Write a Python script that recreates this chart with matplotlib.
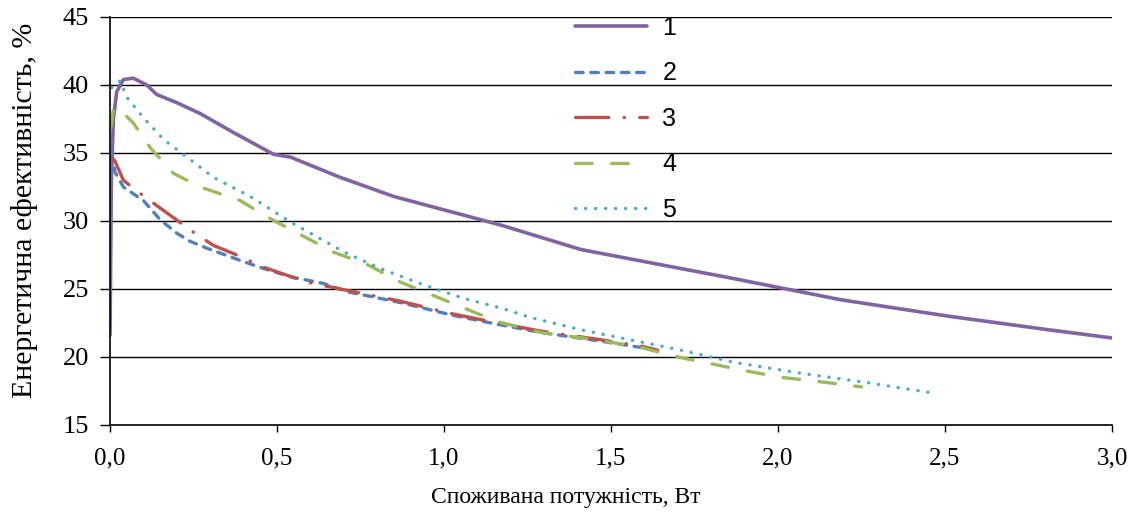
import matplotlib
matplotlib.use("Agg")
import matplotlib.pyplot as plt

plt.rcParams['lines.scale_dashes'] = False

# споживана потужність, Вт / енергетична ефективність, %
p1 = [0.0, 0.004, 0.01, 0.02, 0.04, 0.07, 0.11, 0.14, 0.2, 0.27, 0.37, 0.49, 0.54,
      0.69, 0.85, 1.17, 1.41, 1.86, 2.19, 2.51, 2.81, 3.0]
e1 = [21.6, 33.0, 37.5, 39.5, 40.4, 40.5, 40.0, 39.3, 38.7, 37.9, 36.5, 34.9, 34.7,
      33.2, 31.8, 29.7, 27.9, 25.8, 24.2, 23.0, 22.0, 21.4]

p2 = [0.005, 0.015, 0.04, 0.1, 0.15, 0.2, 0.24, 0.29, 0.39, 0.46, 0.54, 0.64, 0.71,
      0.87, 1.02, 1.14, 1.29, 1.46, 1.59, 1.65]
e2 = [35.0, 33.6, 32.5, 31.5, 30.1, 29.1, 28.5, 28.0, 27.1, 26.5, 25.9, 25.4, 24.8,
      24.0, 23.1, 22.5, 21.8, 21.2, 20.7, 20.4]

p3 = [0.005, 0.015, 0.04, 0.07, 0.125, 0.17, 0.26, 0.31, 0.37, 0.46, 0.59, 0.71,
      0.87, 1.02, 1.14, 1.29, 1.46, 1.59, 1.64]
e3 = [34.7, 34.4, 33.0, 32.4, 31.4, 30.6, 29.0, 28.2, 27.6, 26.6, 25.5, 24.9,
      24.1, 23.2, 22.6, 21.9, 21.3, 20.8, 20.5]

p4 = [0.003, 0.01, 0.02, 0.07, 0.12, 0.19, 0.27, 0.39, 0.47, 0.57, 0.67, 0.77, 0.87,
      0.96, 1.06, 1.16, 1.29, 1.46, 1.59, 1.70, 1.80, 1.90, 2.01, 2.12, 2.25]
e4 = [36.9, 38.2, 38.4, 37.2, 35.4, 33.5, 32.5, 31.5, 30.3, 29.0, 27.7, 26.8, 25.5,
      24.6, 23.6, 22.6, 21.8, 21.25, 20.7, 20.0, 19.5, 19.0, 18.5, 18.2, 17.8]

p5 = [0.005, 0.03, 0.05, 0.1, 0.16, 0.23, 0.31, 0.42, 0.545, 0.71, 0.82, 0.94, 1.06,
      1.17, 1.26, 1.41, 1.56, 1.71, 1.87, 2.07, 2.27, 2.45]
e5 = [39.8, 40.3, 39.1, 37.6, 36.0, 34.7, 33.2, 31.8, 29.85, 27.6, 26.4, 25.3, 24.3,
      23.6, 22.9, 22.0, 21.25, 20.5, 19.6, 18.8, 18.1, 17.4]

labels = ['1', '2', '3', '4', '5']

fig = plt.figure(figsize=(11.39, 5.15), dpi=100)
ax = fig.add_axes([0.0966, 0.1748, 0.8797, 0.7922])

serif = 'Liberation Serif'

ax.plot(p1, e1, color='#8064A2', lw=2.6, solid_capstyle='round', label=labels[0])
ax.plot(p2, e2, color='#4F81BD', lw=2.4, dashes=(5.5, 5.5), dash_capstyle='round', label=labels[1])
ax.plot(p3, e3, color='#C0504D', lw=2.4, dashes=(24, 11, 0.3, 11), dash_capstyle='round', label=labels[2])
ax.plot(p4, e4, color='#9BBB59', lw=2.4, dashes=(12, 14), dash_capstyle='round', label=labels[3])
ax.plot(p5, e5, color='#4BACC6', lw=2.4, dashes=(0.2, 7.0), dash_capstyle='round', label=labels[4])

ax.set_xlim(0, 3.0)
ax.set_ylim(15, 45)
xt = [0.0, 0.5, 1.0, 1.5, 2.0, 2.5, 3.0]
ax.set_xticks(xt)
ax.set_xticklabels([f'{v:.1f}'.replace('.', ',') for v in xt], fontfamily=serif, fontsize=18)
yt = [15, 20, 25, 30, 35, 40, 45]
ax.set_yticks(yt)
ax.set_yticklabels([str(v) for v in yt], fontfamily=serif, fontsize=19)
ax.tick_params(axis='y', direction='out', length=7, width=1, color='black', pad=8)
ax.tick_params(axis='x', direction='out', length=5, width=1, color='black', pad=11)

for v in yt[1:]:
    ax.axhline(v, color='black', lw=1, zorder=0)

for s in ['top', 'right']:
    ax.spines[s].set_visible(False)
for s in ['left', 'bottom']:
    ax.spines[s].set_color('black')
    ax.spines[s].set_linewidth(1.2)

ax.set_xlabel('Споживана потужність, Вт', fontfamily=serif, fontsize=17)
ax.xaxis.set_label_coords(0.455, -0.152)
ax.set_ylabel('Енергетична ефективність, %', fontfamily=serif, fontsize=21.5)
ax.yaxis.set_label_coords(-0.072, 0.527)

ax.legend(loc='upper left', bbox_to_anchor=(0.5048, 0.969), bbox_transform=fig.transFigure,
          frameon=False, prop={'family': 'Liberation Sans', 'size': 18},
          handlelength=2.9, handletextpad=0.6, labelspacing=0.86, borderpad=0,
          borderaxespad=0)

fig.savefig('out.png', dpi=100)
